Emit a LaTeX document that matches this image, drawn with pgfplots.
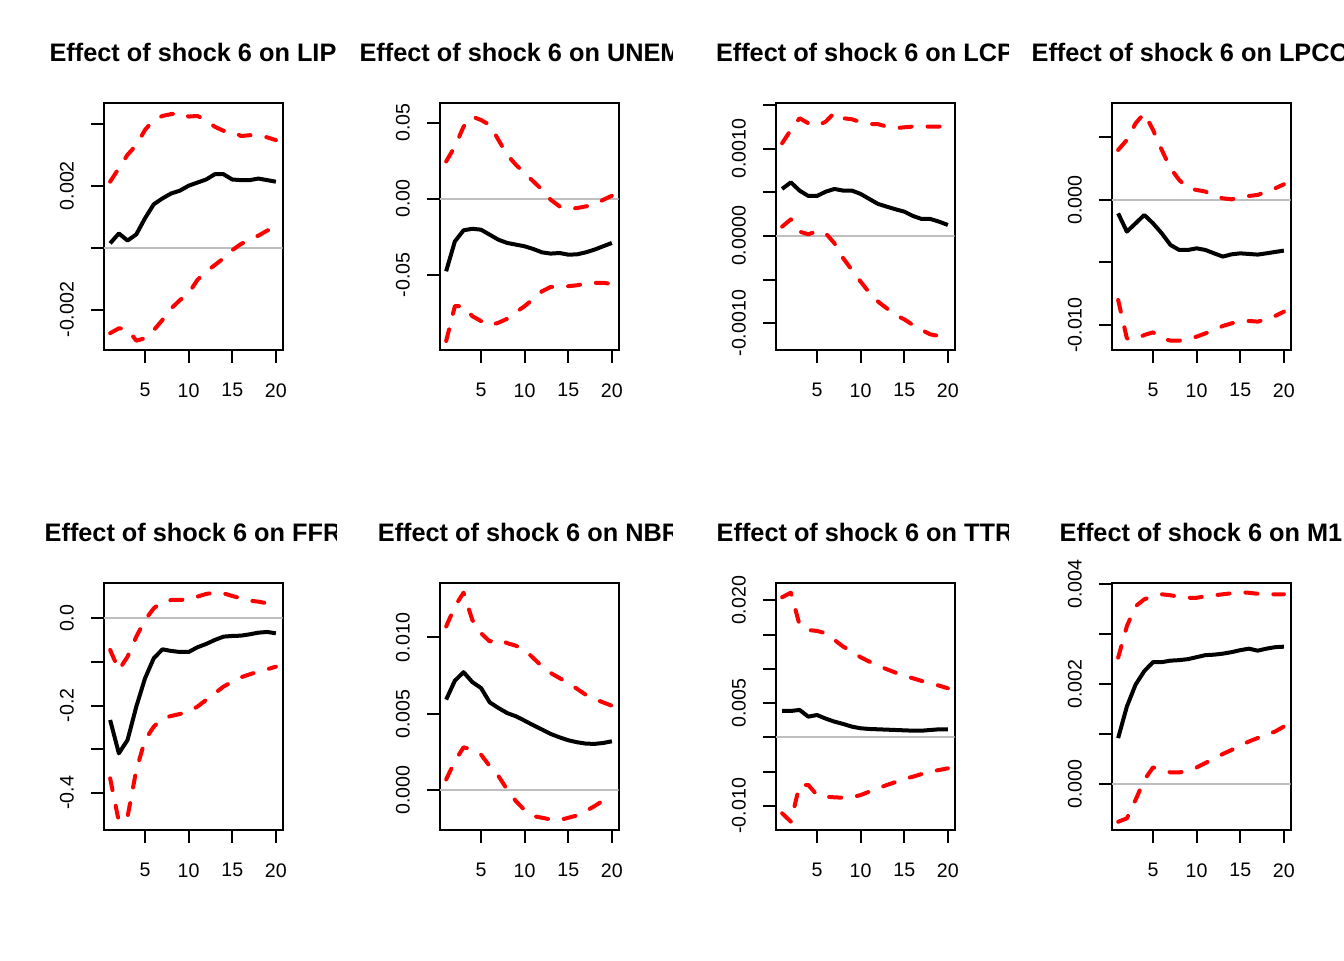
\documentclass[border=0pt]{standalone}
\usepackage{fontspec}
\setmainfont{Liberation Sans}
\usepackage{pgfplots}
\usepackage{pgfplotstable}
\pgfplotsset{compat=1.18}
\definecolor{rgray}{HTML}{BEBEBE}

\pgfplotstableread{
x m lo hi
1 0.00014 -0.00276 0.00213
2 0.00046 -0.00260 0.00256
3 0.00023 -0.00263 0.00300
4 0.00043 -0.00300 0.00331
5 0.00095 -0.00292 0.00380
6 0.00140 -0.00266 0.00412
7 0.00159 -0.00233 0.00425
8 0.00175 -0.00196 0.00431
9 0.00184 -0.00169 0.00435
10 0.00200 -0.00147 0.00423
11 0.00210 -0.00104 0.00425
12 0.00220 -0.00077 0.00412
13 0.00237 -0.00056 0.00390
14 0.00237 -0.00034 0.00377
15 0.00220 -0.00008 0.00376
16 0.00218 0.00012 0.00360
17 0.00218 0.00025 0.00363
18 0.00223 0.00039 0.00362
19 0.00218 0.00055 0.00356
20 0.00213 0.00068 0.00347
}\tLIP

\pgfplotstableread{
x m lo hi
1 -0.0476 -0.0934 0.0245
2 -0.0280 -0.0705 0.0343
3 -0.0207 -0.0705 0.0474
4 -0.0197 -0.0771 0.0540
5 -0.0203 -0.0803 0.0517
6 -0.0236 -0.0832 0.0485
7 -0.0269 -0.0814 0.0386
8 -0.0290 -0.0788 0.0288
9 -0.0301 -0.0745 0.0223
10 -0.0312 -0.0705 0.0168
11 -0.0330 -0.0657 0.0114
12 -0.0352 -0.0607 0.0059
13 -0.0360 -0.0579 -0.0007
14 -0.0356 -0.0576 -0.0050
15 -0.0367 -0.0574 -0.0066
16 -0.0365 -0.0568 -0.0061
17 -0.0352 -0.0557 -0.0050
18 -0.0334 -0.0552 -0.0039
19 -0.0312 -0.0552 -0.0007
20 -0.0290 -0.0559 0.0020
}\tUNEM

\pgfplotstableread{
x m lo hi
1 0.000539 0.000107 0.001063
2 0.000615 0.000191 0.001216
3 0.000520 0.000050 0.001350
4 0.000459 0.000019 0.001292
5 0.000459 0.000057 0.001261
6 0.000508 0.000030 0.001311
7 0.000539 -0.000084 0.001414
8 0.000520 -0.000256 0.001350
9 0.000520 -0.000390 0.001338
10 0.000482 -0.000524 0.001304
11 0.000424 -0.000650 0.001284
12 0.000367 -0.000753 0.001281
13 0.000336 -0.000830 0.001254
14 0.000306 -0.000906 0.001235
15 0.000279 -0.000956 0.001246
16 0.000229 -0.001021 0.001254
17 0.000195 -0.001078 0.001254
18 0.000195 -0.001128 0.001254
19 0.000164 -0.001147 0.001254
20 0.000126 -0.001200 0.001254
}\tLCP

\pgfplotstableread{
x m lo hi
1 -0.00107 -0.00800 0.00400
2 -0.00253 -0.01107 0.00480
3 -0.00187 -0.01115 0.00613
4 -0.00120 -0.01080 0.00693
5 -0.00187 -0.01059 0.00560
6 -0.00267 -0.01107 0.00400
7 -0.00360 -0.01125 0.00253
8 -0.00400 -0.01125 0.00160
9 -0.00400 -0.01115 0.00093
10 -0.00387 -0.01093 0.00080
11 -0.00400 -0.01067 0.00067
12 -0.00427 -0.01040 0.00032
13 -0.00453 -0.01008 0.00013
14 -0.00435 -0.00987 0.00005
15 -0.00427 -0.00968 0.00021
16 -0.00432 -0.00968 0.00032
17 -0.00437 -0.00973 0.00040
18 -0.00427 -0.00955 0.00067
19 -0.00416 -0.00928 0.00093
20 -0.00405 -0.00893 0.00125
}\tLPCC

\pgfplotstableread{
x m lo hi
1 -0.2332 -0.3670 -0.0726
2 -0.3096 -0.4664 -0.1185
3 -0.2790 -0.4550 -0.0879
4 -0.2026 -0.3479 -0.0420
5 -0.1376 -0.2790 -0.0038
6 -0.0917 -0.2485 0.0229
7 -0.0711 -0.2294 0.0382
8 -0.0749 -0.2240 0.0420
9 -0.0772 -0.2194 0.0420
10 -0.0772 -0.2141 0.0436
11 -0.0665 -0.2026 0.0497
12 -0.0589 -0.1873 0.0558
13 -0.0497 -0.1720 0.0589
14 -0.0420 -0.1567 0.0573
15 -0.0405 -0.1453 0.0512
16 -0.0398 -0.1353 0.0459
17 -0.0367 -0.1284 0.0405
18 -0.0329 -0.1223 0.0382
19 -0.0313 -0.1170 0.0344
20 -0.0344 -0.1109 0.0229
}\tFFR

\pgfplotstableread{
x m lo hi
1 0.00593 0.00070 0.01072
2 0.00717 0.00190 0.01203
3 0.00773 0.00281 0.01294
4 0.00708 0.00266 0.01115
5 0.00669 0.00233 0.01028
6 0.00575 0.00157 0.00974
7 0.00538 0.00092 0.00991
8 0.00505 0.00004 0.00963
9 0.00484 -0.00072 0.00946
10 0.00455 -0.00131 0.00919
11 0.00425 -0.00170 0.00865
12 0.00397 -0.00181 0.00810
13 0.00368 -0.00192 0.00767
14 0.00346 -0.00196 0.00734
15 0.00327 -0.00181 0.00702
16 0.00314 -0.00166 0.00664
17 0.00305 -0.00137 0.00625
18 0.00303 -0.00105 0.00597
19 0.00309 -0.00068 0.00575
20 0.00320 -0.00030 0.00553
}\tNBR

\pgfplotstableread{
x m lo hi
1 0.00385 -0.01110 0.02046
2 0.00385 -0.01232 0.02114
3 0.00400 -0.00697 0.01641
4 0.00302 -0.00697 0.01568
5 0.00326 -0.00843 0.01554
6 0.00273 -0.00867 0.01520
7 0.00229 -0.00877 0.01422
8 0.00195 -0.00882 0.01325
9 0.00156 -0.00877 0.01252
10 0.00132 -0.00843 0.01169
11 0.00122 -0.00794 0.01106
12 0.00117 -0.00745 0.01047
13 0.00112 -0.00697 0.00994
14 0.00107 -0.00653 0.00945
15 0.00102 -0.00609 0.00901
16 0.00097 -0.00575 0.00862
17 0.00097 -0.00536 0.00823
18 0.00107 -0.00502 0.00789
19 0.00117 -0.00477 0.00755
20 0.00117 -0.00453 0.00716
}\tTTR

\pgfplotstableread{
x m lo hi
1 0.000918 -0.00076 0.00253
2 0.00155 -0.00069 0.00316
3 0.00199 -0.00032 0.00356
4 0.00226 0.00008 0.00370
5 0.00244 0.00033 0.00376
6 0.00244 0.00028 0.00380
7 0.00247 0.00023 0.00378
8 0.00248 0.00023 0.00375
9 0.00250 0.00026 0.00373
10 0.00254 0.00033 0.00373
11 0.00258 0.00042 0.00376
12 0.00259 0.00050 0.00378
13 0.00261 0.00060 0.00380
14 0.00264 0.00068 0.00382
15 0.00268 0.00077 0.00384
16 0.00271 0.00085 0.00383
17 0.00267 0.00092 0.00381
18 0.00271 0.00098 0.00380
19 0.00274 0.00105 0.00380
20 0.00275 0.00115 0.00380
}\tMone

\pgfplotsset{
  irf/.style={
    width=89.5pt, height=123.35pt, scale only axis, anchor=south west,
    xmin=0.24, xmax=20.76, xtick={5,10,15,20}, xticklabels={5,10,15,20},
    axis line style={line width=1pt},
    tick align=outside, xtick pos=left, ytick pos=left,
    major tick length=6.35pt,
    every tick/.style={black, line width=1pt},
    tick label style={font=\fontsize{9.8}{11}\selectfont, inner sep=0pt},
    yticklabel style={rotate=90, anchor=base},
    xticklabel style={anchor=north},
    yticklabel shift=8.65pt,
    xticklabel shift=10.15pt,
    scaled y ticks=false,
  },
  zeroline/.style={rgray, line width=1pt},
  meanline/.style={black, line width=2pt, line join=round},
  bandline/.style={red, line width=2pt, dash pattern=on 6pt off 8pt, line cap=round, line join=round},
}

\newcommand{\irfplots}[1]{%
  \addplot[zeroline] coordinates {(0.24,0) (20.76,0)};
  \addplot[meanline] table[x=x, y=m] {#1};
  \addplot[bandline] table[x=x, y=lo] {#1};
  \addplot[bandline] table[x=x, y=hi] {#1};
}

\newcommand{\paneltitle}[3]{% col index, baseline y, text
  \begin{scope}
    \clip ({168*#1},0) rectangle ({168*(#1+1)},480);
    \node[anchor=base, inner sep=0pt, font=\bfseries\fontsize{12.65}{14}\selectfont] at ({96.5+168*#1},#2) {#3};
  \end{scope}
}

\begin{document}
\begin{tikzpicture}[x=1pt,y=1pt]
\path[use as bounding box] (0,0) rectangle (672,480);

% Row 1
\begin{axis}[irf, at={(51.75pt,305pt)}, ymin=-0.0033, ymax=0.004658,
  ytick={-0.002,0,0.002,0.004}, yticklabels={-0.002,,0.002,}]
\irfplots{\tLIP}
\end{axis}
\begin{axis}[irf, at={(219.75pt,305pt)}, ymin=-0.0993, ymax=0.0627,
  ytick={-0.05,0,0.05}, yticklabels={-0.05,0.00,0.05}]
\irfplots{\tUNEM}
\end{axis}
\begin{axis}[irf, at={(387.75pt,305pt)}, ymin=-0.001307, ymax=0.001521,
  ytick={-0.001,-0.0005,0,0.0005,0.001,0.0015}, yticklabels={-0.0010,,0.0000,,0.0010,}]
\irfplots{\tLCP}
\end{axis}
\begin{axis}[irf, at={(555.75pt,305pt)}, ymin=-0.012, ymax=0.00773,
  ytick={-0.01,-0.005,0,0.005}, yticklabels={-0.010,,0.000,}]
\irfplots{\tLPCC}
\end{axis}

% Row 2
\begin{axis}[irf, at={(51.75pt,65pt)}, ymin=-0.4855, ymax=0.0803,
  ytick={-0.4,-0.3,-0.2,-0.1,0}, yticklabels={-0.4,,-0.2,,0.0}]
\irfplots{\tFFR}
\end{axis}
\begin{axis}[irf, at={(219.75pt,65pt)}, ymin=-0.00261, ymax=0.01355,
  ytick={0,0.005,0.01}, yticklabels={0.000,0.005,0.010}]
\irfplots{\tNBR}
\end{axis}
\begin{axis}[irf, at={(387.75pt,65pt)}, ymin=-0.01354, ymax=0.0225,
  ytick={-0.01,-0.005,0,0.005,0.01,0.015,0.02}, yticklabels={-0.010,,,0.005,,,0.020}]
\irfplots{\tTTR}
\end{axis}
\begin{axis}[irf, at={(555.75pt,65pt)}, ymin=-0.000924, ymax=0.00402,
  ytick={0,0.001,0.002,0.003,0.004}, yticklabels={0.000,,0.002,,0.004}]
\irfplots{\tMone}
\end{axis}

\paneltitle{0}{449.15}{Effect of shock 6 on LIP}
\paneltitle{1}{449.15}{Effect of shock 6 on UNEMP}
\paneltitle{2}{449.15}{Effect of shock 6 on LCP}
\paneltitle{3}{449.15}{Effect of shock 6 on LPCOM}
\paneltitle{0}{209.15}{Effect of shock 6 on FFR}
\paneltitle{1}{209.15}{Effect of shock 6 on NBR}
\paneltitle{2}{209.15}{Effect of shock 6 on TTR}
\paneltitle{3}{209.15}{Effect of shock 6 on M1}
\end{tikzpicture}
\end{document}
